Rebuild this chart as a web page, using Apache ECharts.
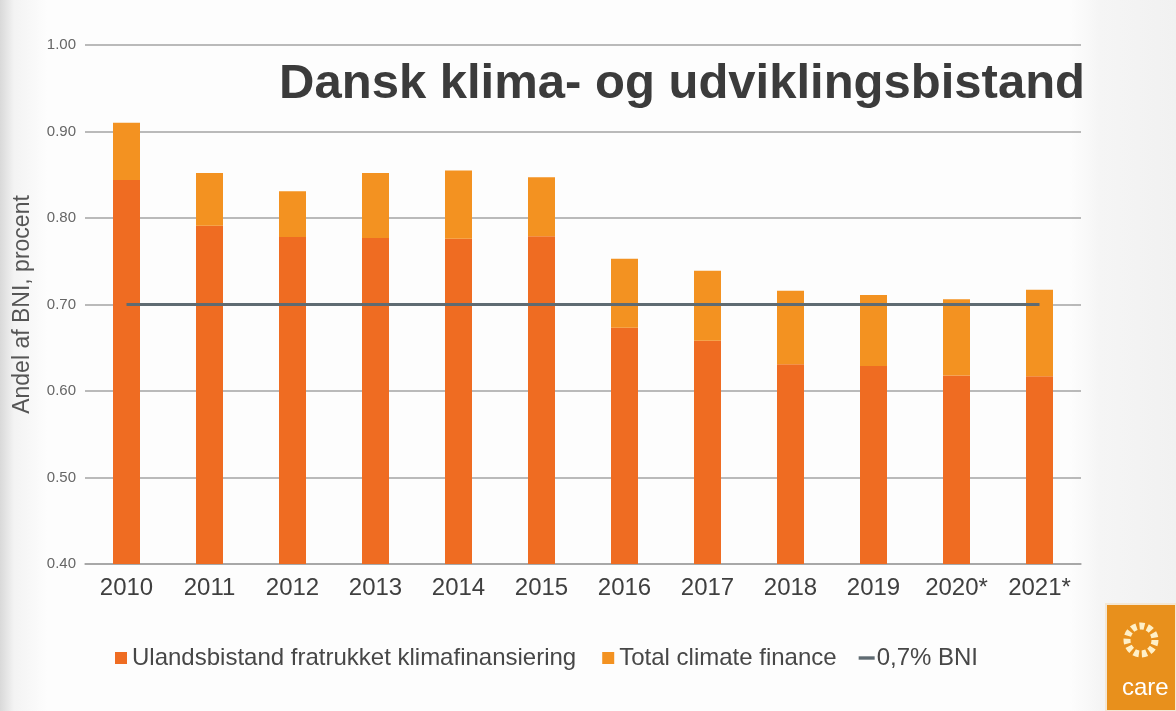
<!DOCTYPE html>
<html>
<head>
<meta charset="utf-8">
<script src="https://cdn.jsdelivr.net/npm/echarts@6/dist/echarts.min.js"></script>
<style>html,body{margin:0;padding:0;}#c{width:1176px;height:711px;}</style>
</head>
<body>
<div id="c"></div>
<script>
const categories = ['2010','2011','2012','2013','2014','2015','2016','2017','2018','2019','2020*','2021*'];
const ulandsbistand = [0.844,0.791,0.778,0.777,0.776,0.779,0.673,0.658,0.631,0.629,0.618,0.617];
const climateFinance = [0.066,0.061,0.053,0.075,0.079,0.068,0.080,0.081,0.085,0.082,0.088,0.100];
const bniTarget = [0.70,0.70,0.70,0.70,0.70,0.70,0.70,0.70,0.70,0.70,0.70,0.70];
const seriesNames = ['Ulandsbistand fratrukket klimafinansiering','Total climate finance','0,7% BNI'];
const titleText = 'Dansk klima- og udviklingsbistand';
const yAxisName = 'Andel af BNI, procent';

const chart = echarts.init(document.getElementById('c'));
const font = 'Liberation Sans, Arial, sans-serif';
const squareIcon = 'path://M0,0 M16,12 M4,0 L16,0 L16,12 L4,12 Z';
const dashIcon = 'path://M0,0 M16,12 M0,4.3 L16,4.3 L16,7.7 L0,7.7 Z';
chart.setOption({
  backgroundColor: {
    type: 'linear', x: 0, y: 0, x2: 1, y2: 0,
    colorStops: [
      {offset: 0, color: '#d9d9d9'},
      {offset: 0.012, color: '#f3f3f3'},
      {offset: 0.04, color: '#fdfdfd'},
      {offset: 0.91, color: '#fdfdfd'},
      {offset: 0.935, color: '#f5f5f5'},
      {offset: 1, color: '#f1f1f1'}
    ]
  },
  animation: false,
  title: {
    text: titleText,
    right: 86, top: 55,
    textStyle: {fontFamily: font, fontSize: 49, fontWeight: 'bold', color: '#3b3b3b'}
  },
  grid: {left: 85, right: 95, top: 45, bottom: 147, outerBoundsMode: 'none', containLabel: false},
  legend: {
    left: 106, top: 641,
    itemWidth: 16, itemHeight: 12, itemGap: 22,
    textStyle: {fontFamily: font, fontSize: 24, color: '#474747'},
    data: [
      {name: seriesNames[0], icon: squareIcon},
      {name: seriesNames[1], icon: squareIcon},
      {name: seriesNames[2], icon: dashIcon, textStyle: {padding: [0,0,0,-3]}}
    ]
  },
  xAxis: {
    type: 'category', data: categories,
    axisLine: {show: true, lineStyle: {color: '#a3a3a3', width: 1.5}},
    axisTick: {show: false},
    axisLabel: {fontFamily: font, fontSize: 24, color: '#3f3f3f', margin: 12}
  },
  yAxis: {
    type: 'value', min: 0.4, max: 1.0, interval: 0.1,
    name: yAxisName, nameLocation: 'middle', nameGap: 51, nameRotate: 90,
    nameTextStyle: {fontFamily: font, fontSize: 23, color: '#555'},
    axisLine: {show: false}, axisTick: {show: false},
    axisLabel: {fontFamily: font, fontSize: 15, color: '#666', margin: 9, formatter: v => v.toFixed(2)},
    splitLine: {lineStyle: {color: '#a3a3a3', width: 1.5}}
  },
  series: [
    {name: seriesNames[0], type: 'bar', stack: 'a', data: ulandsbistand, barWidth: 27,
     itemStyle: {color: '#ef6c22'}},
    {name: seriesNames[1], type: 'bar', stack: 'a', data: climateFinance, barWidth: 27,
     itemStyle: {color: '#f39221'}},
    {name: seriesNames[2], type: 'line', data: bniTarget, symbol: 'none',
     lineStyle: {color: '#5f6b72', width: 3}, itemStyle: {color: '#5f6b72'}, z: 5}
  ],
  graphic: [
    {type: 'rect', shape: {x: 1106, y: 604, width: 70, height: 107}, style: {fill: '#e8901c', stroke: '#f4e7d4', lineWidth: 2}},
    {type: 'circle', shape: {cx: 1141, cy: 640, r: 14}, style: {fill: 'none', stroke: '#fff0c8', lineWidth: 7, lineDash: [5,3]}},
    {type: 'text', left: 1122, top: 676, style: {text: 'care', fill: '#fff', font: '24px Liberation Sans Narrow, Arial'}}
  ]
});
</script>
</body>
</html>
